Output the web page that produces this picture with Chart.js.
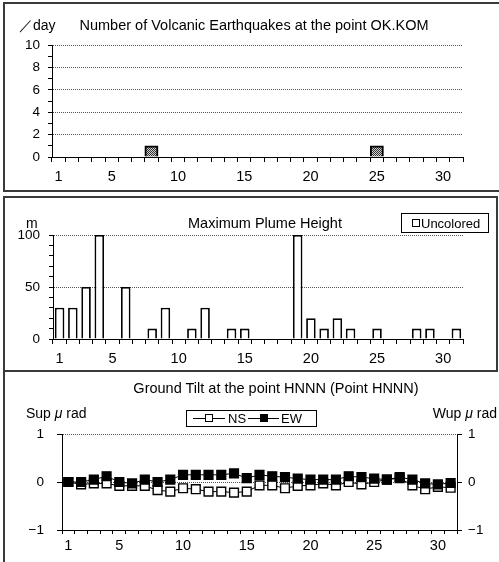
<!DOCTYPE html>
<html><head><meta charset="utf-8">
<script src="https://cdn.jsdelivr.net/npm/chart.js@4"></script>
<style>
html,body{margin:0;padding:0;background:#fff;}
#wrap{position:relative;width:499px;height:562px;overflow:hidden;font-family:"Liberation Sans",Arial,sans-serif;color:#000;}
canvas{position:absolute;left:0;}
.t{position:absolute;white-space:nowrap;font-size:14px;line-height:14px;}
.c{transform:translateX(-50%);}
.frame{position:absolute;box-sizing:border-box;border:0 solid #3a3a3a;}
.lg{position:absolute;box-sizing:border-box;border:1px solid #000;background:#fff;}
.ln{position:absolute;height:0;border-top:1.2px solid #000;}
.sq{position:absolute;box-sizing:border-box;width:8px;height:8px;border:1.2px solid #000;}
i{font-style:italic;}
</style></head><body>
<div id="wrap">
 <canvas id="c1" width="499" height="193" style="top:0"></canvas>
 <canvas id="c2" width="499" height="180" style="top:193px"></canvas>
 <canvas id="c3" width="499" height="189" style="top:373px"></canvas>

 <div class="frame" style="left:3px;top:2px;width:500px;height:190px;border-width:2px 0 2px 2px"></div>
 <div class="frame" style="left:3px;top:196px;width:495px;height:176px;border-width:2px"></div>
 <div class="frame" style="left:3px;top:372px;width:2px;height:192px;border-width:0 0 0 2px"></div>

 <div class="t" style="left:19px;top:18px">／day</div>
 <div class="t c" style="left:254px;top:18px;font-size:14.5px">Number of Volcanic Earthquakes at the point OK.KOM</div>

 <div class="t" style="left:26px;top:216px">m</div>
 <div class="t c" style="left:265px;top:216px;font-size:14.5px">Maximum Plume Height</div>
 <div class="lg" style="left:401px;top:213px;width:88px;height:20px"></div>
 <div class="sq" style="left:412px;top:219px;background:#fff"></div>
 <div class="t" style="left:421px;top:217px;font-size:13px;line-height:13px">Uncolored</div>

 <div class="t c" style="left:276px;top:381px;font-size:14.5px">Ground Tilt at the point HNNN (Point HNNN)</div>
 <div class="t" style="left:26px;top:406px">Sup <i>μ</i> rad</div>
 <div class="t" style="right:2px;top:406px">Wup <i>μ</i> rad</div>
 <div class="lg" style="left:186px;top:410px;width:131px;height:17px"></div>
 <div class="ln" style="left:193px;top:418px;width:32px"></div>
 <div class="sq" style="left:205px;top:414px;background:#fff"></div>
 <div class="t" style="left:228px;top:412px;font-size:13px;line-height:13px">NS</div>
 <div class="ln" style="left:248px;top:418px;width:31px"></div>
 <div class="sq" style="left:260px;top:414px;background:#000"></div>
 <div class="t" style="left:281px;top:412px;font-size:13px;line-height:13px">EW</div>
</div>
<script>
// ---- data ----
const days = [1,2,3,4,5,6,7,8,9,10,11,12,13,14,15,16,17,18,19,20,21,22,23,24,25,26,27,28,29,30,31];
const quakes = [0,0,0,0,0,0,0,1,0,0,0,0,0,0,0,0,0,0,0,0,0,0,0,0,1,0,0,0,0,0,0];
const plume = [30,30,50,100,0,50,0,10,30,0,10,30,0,10,10,0,0,0,100,20,10,20,10,0,10,0,0,10,10,0,10];
const tiltNS = [0,-0.05,-0.03,-0.03,-0.08,-0.08,-0.08,-0.17,-0.2,-0.13,-0.15,-0.2,-0.2,-0.22,-0.2,-0.07,-0.07,-0.13,-0.08,-0.07,-0.03,-0.07,0,-0.05,0,0.05,0.08,-0.07,-0.15,-0.1,-0.12];
const tiltEW = [0,0,0.05,0.12,0,-0.03,0.05,0,0.05,0.15,0.15,0.15,0.15,0.18,0.08,0.15,0.12,0.1,0.07,0.05,0.05,0.05,0.12,0.1,0.07,0.05,0.1,0.05,-0.03,-0.05,-0.02];
const quakeTicks = [0,2,4,6,8,10];
const plumeTicks = [0,50,100];
const tiltTicks = [-1,0,1];

const FAM = "'Liberation Sans', Arial, sans-serif";
const dayLabel = (v,i) => { const d = days[i]; return (d===1 || d%5===0) ? String(d) : ''; };

function xScale(h, tl, pad){
  return {
    type:'category', offset:true,
    grid:{offset:true, drawOnChartArea:false, drawTicks:true, tickLength:tl, color:'#000', tickColor:'#000', lineWidth:1},
    border:{display:true, color:'#000', width:1},
    ticks:{autoSkip:false, maxRotation:0, minRotation:0, padding:pad, color:'#000', font:{family:FAM, size:14.5}, callback:dayLabel},
    afterFit:s=>{ s.height = h; }
  };
}
function yScale(min,max,step,labels,gridVals,w,pad,fmt){
  return {
    min:min, max:max,
    ticks:{stepSize:step, autoSkip:false, padding:pad, color:'#000', font:{family:FAM, size:13.5},
      callback:v => labels.includes(v) ? fmt(v) : ''},
    grid:{drawTicks:true, tickLength:4, tickColor:'#000', lineWidth:1,
      color:ctx => (ctx.tick && gridVals.includes(ctx.tick.value)) ? '#555' : 'rgba(0,0,0,0)'},
    border:{display:true, color:'#000', width:1, dash:[1,1]},
    afterFit:s=>{ s.width = w; }
  };
}
const base = {responsive:false, animation:false, events:[], plugins:{legend:{display:false}, tooltip:{enabled:false}}};

// pattern for quake bars
const pc = document.createElement('canvas'); pc.width=2; pc.height=2;
const pg = pc.getContext('2d'); pg.fillStyle='#cfcfcf'; pg.fillRect(0,0,2,2);
pg.fillStyle='#333'; pg.fillRect(0,0,1,1); pg.fillRect(1,1,1,1);
const pat = document.getElementById('c1').getContext('2d').createPattern(pc,'repeat');

new Chart(document.getElementById('c1'), {
  type:'bar',
  data:{labels:days, datasets:[{data:quakes, backgroundColor:pat, borderColor:'#000', borderWidth:2, barPercentage:1, categoryPercentage:1, borderSkipped:'bottom'}]},
  options:Object.assign({}, base, {
    layout:{padding:{left:0, right:36, top:45, bottom:0}},
    scales:{x:xScale(36,5,6), y:yScale(0,10,1,quakeTicks,[2,4,6,8,10],52,8,v=>String(v))}
  })
});

new Chart(document.getElementById('c2'), {
  type:'bar',
  data:{labels:days, datasets:[{data:plume, backgroundColor:'#fff', borderColor:'#000', borderWidth:1.8, barPercentage:0.72, categoryPercentage:1, borderSkipped:'bottom'}]},
  options:Object.assign({}, base, {
    layout:{padding:{left:0, right:36, top:42, bottom:0}},
    scales:{x:xScale(34,5,6), y:yScale(0,100,10,plumeTicks,[50,100],53,9,v=>String(v))}
  })
});

const tickFmt = v => v<0 ? '\u2212' + Math.abs(v) : String(v);
const y3 = yScale(-1,1,1,tiltTicks,[0,1],62,13,tickFmt);
y3.grid.tickLength = 5;
const y3r = yScale(-1,1,1,tiltTicks,[],42,6,tickFmt);
y3r.position = 'right';
y3r.grid.drawOnChartArea = false;
y3r.grid.tickLength = 5;

new Chart(document.getElementById('c3'), {
  type:'line',
  data:{labels:days, datasets:[
    {label:'NS', data:tiltNS, yAxisID:'y', borderColor:'#000', borderWidth:1, pointStyle:'rect', pointRadius:6.2, pointBackgroundColor:'#fff', pointBorderColor:'#000', pointBorderWidth:1.4, order:1, fill:false},
    {label:'EW', data:tiltEW, yAxisID:'y', borderColor:'#000', borderWidth:1, pointStyle:'rect', pointRadius:6.2, pointBackgroundColor:'#000', pointBorderColor:'#000', pointBorderWidth:1.4, order:0, fill:false}
  ]},
  options:Object.assign({}, base, {
    layout:{padding:{left:0, right:0, top:61, bottom:0}},
    scales:{x:xScale(32,4,3), y:y3, y2:y3r}
  })
});
</script>
</body></html>
